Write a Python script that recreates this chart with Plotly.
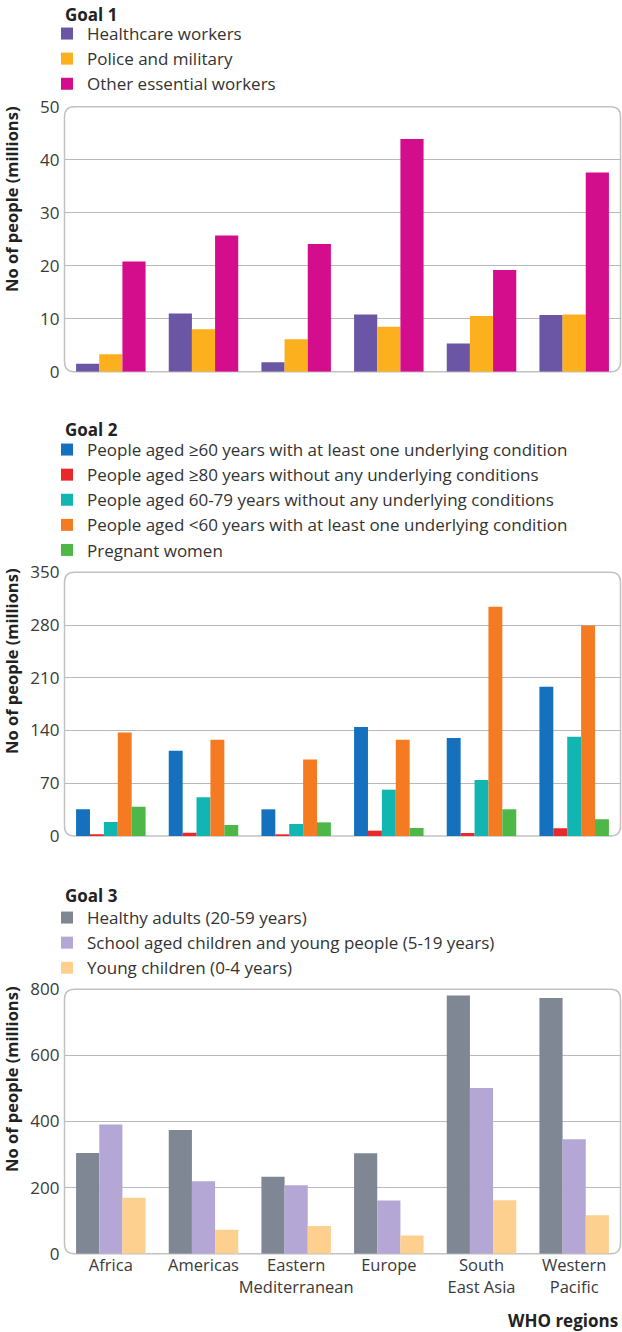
import plotly.graph_objects as go

regions = ["Africa", "Americas", "Eastern<br>Mediterranean", "Europe", "South<br>East Asia", "Western<br>Pacific"]

# Goal 1 (millions)
healthcare_workers = [1.5, 11.0, 1.8, 10.8, 5.3, 10.7]
police_military = [3.3, 8.0, 6.1, 8.5, 10.5, 10.8]
other_essential = [20.8, 25.7, 24.1, 43.9, 19.2, 37.6]

# Goal 2 (millions)
aged60_with_cond = [35.4, 113.2, 35.4, 144.6, 130.0, 198.0]
aged80_no_cond = [1.0, 4.4, 1.0, 7.1, 4.0, 10.2]
aged60_79_no_cond = [18.6, 51.3, 15.9, 61.5, 74.3, 131.7]
under60_with_cond = [137.5, 127.8, 101.7, 127.8, 304.2, 279.4]
pregnant_women = [38.9, 14.6, 18.1, 10.6, 35.4, 22.1]

# Goal 3 (millions)
healthy_adults = [305, 374, 233, 304, 781, 774]
school_aged = [391, 219, 207, 161, 501, 346]
young_children = [169, 72.5, 84, 55, 162, 116]

W, H = 622, 1332
FONT = "Open Sans"
TXT = "#333333"
GRID = "#b9b9b9"

def px(x):
    return x / W

def py(y):
    return 1 - y / H

panels = [
    dict(ax="", top=106.7, bot=371.7, rng=[0, 50], dtick=10, title_y=199, goal="Goal 1", goal_y=1,
         leg="legend", leg_top=16,
         series=[("Healthcare workers", healthcare_workers, "#6b56a5"),
                 ("Police and military", police_military, "#fdb01d"),
                 ("Other essential workers", other_essential, "#d40d8c")]),
    dict(ax="2", top=572.3, bot=836.0, rng=[0, 350], dtick=70, title_y=661, goal="Goal 2", goal_y=416,
         leg="legend2", leg_top=432,
         series=[("People aged ≥60 years with at least one underlying condition", aged60_with_cond, "#1570bd"),
                 ("People aged ≥80 years without any underlying conditions", aged80_no_cond, "#e8282c"),
                 ("People aged 60-79 years without any underlying conditions", aged60_79_no_cond, "#11b5b1"),
                 ("People aged <60 years with at least one underlying condition", under60_with_cond, "#f47b22"),
                 ("Pregnant women", pregnant_women, "#4db848")]),
    dict(ax="3", top=989.3, bot=1253.7, rng=[0, 800], dtick=200, title_y=1079, goal="Goal 3", goal_y=882,
         leg="legend3", leg_top=900,
         series=[("Healthy adults (20-59 years)", healthy_adults, "#7f8795"),
                 ("School aged children and young people (5-19 years)", school_aged, "#b4a7d5"),
                 ("Young children (0-4 years)", young_children, "#fed08f")]),
]

LEFT, RIGHT = 64.5, 620.5

fig = go.Figure()
layout = dict(
    width=W, height=H, autosize=False,
    margin=dict(l=0, r=0, t=0, b=0, pad=0),
    paper_bgcolor="white", plot_bgcolor="white",
    barmode="group", bargap=0.25, bargroupgap=0,
    font=dict(family=FONT, color=TXT, size=16),
    annotations=[], shapes=[],
)

for p in panels:
    ax = p["ax"]
    xa = "x" + ax
    ya = "y" + ax
    for name, vals, col in p["series"]:
        fig.add_trace(go.Bar(
            x=regions, y=vals, name=name, marker=dict(color=col, line=dict(width=0)),
            xaxis=xa, yaxis=ya, legend=p["leg"],
            hovertemplate="%{x}: %{y}<extra>" + name + "</extra>",
        ))
    layout["xaxis" + ax] = dict(
        domain=[px(LEFT), px(RIGHT)], anchor=ya, type="category", automargin=False,
        showgrid=False, showline=False, zeroline=False, ticks="", tickangle=0,
        showticklabels=(ax == "3"), tickfont=dict(size=16.5, color="#3a3a3a", family=FONT),
    )
    layout["yaxis" + ax] = dict(
        domain=[py(p["bot"]), py(p["top"])], anchor=xa, range=p["rng"], dtick=p["dtick"],
        automargin=False,
        showgrid=True, gridcolor=GRID, gridwidth=1, zeroline=False, showline=False,
        ticks="", ticklabelstandoff=4,
        tickfont=dict(size=17, color="#3a3a3a", family=FONT),
    )
    layout[p["leg"]] = dict(
        x=px(47), xanchor="left", y=py(p["leg_top"]), yanchor="top",
        bgcolor="rgba(0,0,0,0)", borderwidth=0,
        font=dict(size=17, color=TXT, family=FONT),
        itemclick=False, itemdoubleclick=False, tracegroupgap=0,
    )
    # Goal heading (top-anchored so it stays inside the page)
    layout["annotations"].append(dict(
        text="<b>" + p["goal"] + "</b>", xref="paper", yref="paper",
        x=px(63), y=py(p["goal_y"]), xanchor="left", yanchor="top",
        showarrow=False, font=dict(size=17, color="#222222", family=FONT),
    ))
    # Y-axis title
    layout["annotations"].append(dict(
        text="<b>No of people (millions)</b>", xref="paper", yref="paper",
        x=px(11), y=py(p["title_y"]), xanchor="center", yanchor="middle",
        textangle=-90, showarrow=False, font=dict(size=16.5, color="#222222", family=FONT),
    ))
    # rounded plot frame
    x0, x1 = px(LEFT), px(RIGHT)
    y0, y1 = py(p["bot"]), py(p["top"])
    rx, ry = 10 / W, 10 / H
    path = (f"M{x0},{y0+ry} L{x0},{y1-ry} Q{x0},{y1} {x0+rx},{y1} "
            f"L{x1-rx},{y1} Q{x1},{y1} {x1},{y1-ry} "
            f"L{x1},{y0+ry} Q{x1},{y0} {x1-rx},{y0} "
            f"L{x0+rx},{y0} Q{x0},{y0} {x0},{y0+ry} Z")
    layout["shapes"].append(dict(type="path", xref="paper", yref="paper", path=path,
                                 line=dict(color="#c2c2c2", width=1.5), layer="below"))

layout["annotations"].append(dict(
    text="<b>WHO regions</b>", xref="paper", yref="paper",
    x=px(620), y=py(1320), xanchor="right", yanchor="middle",
    showarrow=False, font=dict(size=17, color="#222222", family=FONT),
))

fig.update_layout(**layout)
fig.write_html(
    "out.html",
    config={"displayModeBar": False, "responsive": False},
    post_script="document.body.style.margin='0';document.body.style.overflow='hidden';",
)
